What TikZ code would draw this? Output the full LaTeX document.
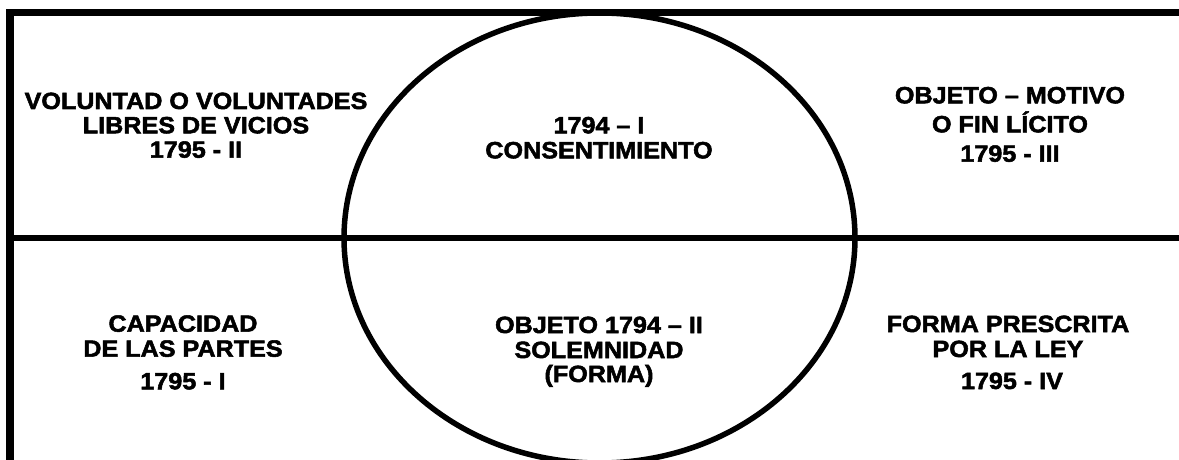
\documentclass[tikz,border=0pt]{standalone}
\usepackage{fontspec}
\setmainfont{Liberation Sans}[FakeStretch=1.07, BoldFeatures={FakeBold=2.2}]
\tikzset{
  lbl/.style={anchor=base, inner sep=0pt, font=\bfseries\fontsize{23.5}{27}\selectfont},
  framebar/.style={line width=7.8pt, line cap=butt},
  midbar/.style={line width=6.8pt},
  oval/.style={line width=5.5pt}
}
\begin{document}
\begin{tikzpicture}[x=1pt,y=-1pt]
\useasboundingbox (0,0) rectangle (1179,460);
% frame
\coordinate (tlc) at (10,12.5);
\coordinate (trc) at (1179,12.5);
\coordinate (blc) at (10,460);
\coordinate (ml) at (10,238);
\coordinate (mr) at (1179,238);
\draw[framebar] (blc) -- (10,8.6);
\draw[framebar] (6.1,12.5) -- (trc);
\draw[midbar] (ml) -- (mr);
% ellipse
\draw[oval] (599.5,238) ellipse [x radius=255.5pt, y radius=225pt];
% top left
\node[lbl] (tl1) at (196,109) {VOLUNTAD O VOLUNTADES};
\node[lbl] (tl2) at (196,133.3) {LIBRES DE VICIOS};
\node[lbl] (tl3) at (196,157.7) {1795 - II};
% top centre
\node[lbl] (tc1) at (599,133.3) {1794 – I};
\node[lbl] (tc2) at (599,158.3) {CONSENTIMIENTO};
% top right
\node[lbl] (tr1) at (1010,103.3) {OBJETO – MOTIVO};
\node[lbl] (tr2) at (1010,132.3) {O FIN LÍCITO};
\node[lbl] (tr3) at (1010,161.7) {1795 - III};
% bottom left
\node[lbl] (bl1) at (183,331.7) {CAPACIDAD};
\node[lbl] (bl2) at (183,356.7) {DE LAS PARTES};
\node[lbl] (bl3) at (183,389.3) {1795 - I};
% bottom centre
\node[lbl] (bc1) at (599,333) {OBJETO 1794 – II};
\node[lbl] (bc2) at (599,358) {SOLEMNIDAD};
\node[lbl] (bc3) at (599,382) {(FORMA)};
% bottom right
\node[lbl] (br1) at (1008,332) {FORMA PRESCRITA};
\node[lbl] (br2) at (1008,357) {POR LA LEY};
\node[lbl] (br3) at (1012,389) {1795 - IV};
\end{tikzpicture}
\end{document}
